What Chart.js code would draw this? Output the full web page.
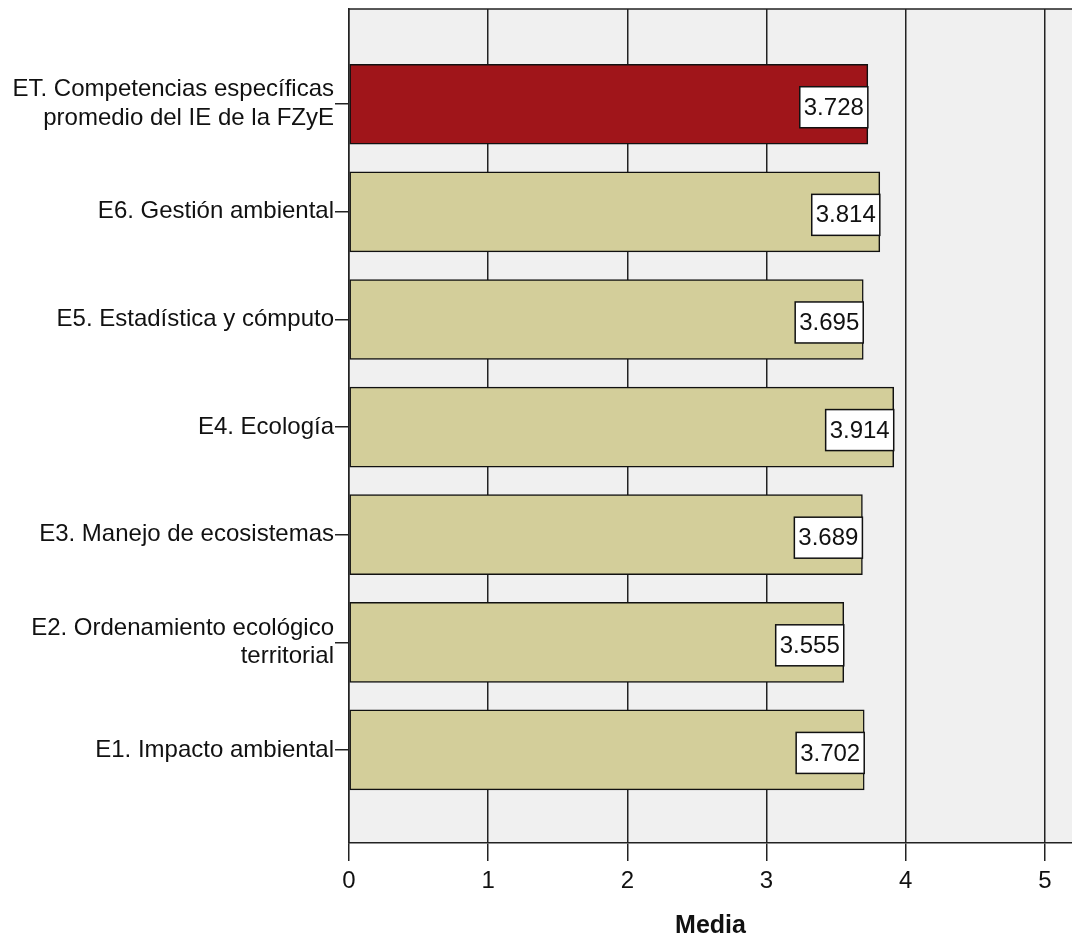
<!DOCTYPE html>
<html>
<head>
<meta charset="utf-8">
<script src="https://cdn.jsdelivr.net/npm/chart.js@4.4.1/dist/chart.umd.min.js"></script>
<style>
  body { margin: 0; background: #fff; }
</style>
</head>
<body>
<canvas id="grafico" width="1072" height="939"></canvas>
<script>
// Categorías (de arriba hacia abajo) y medias
const categorias = [
  'ET. Competencias específicas\npromedio del IE de la FZyE',
  'E6. Gestión ambiental',
  'E5. Estadística y cómputo',
  'E4. Ecología',
  'E3. Manejo de ecosistemas',
  'E2. Ordenamiento ecológico\nterritorial',
  'E1. Impacto ambiental'
];
const medias = [3.728, 3.814, 3.695, 3.914, 3.689, 3.555, 3.702];
const ticksX = [0, 1, 2, 3, 4, 5];

const colores = medias.map((v, i) => i === 0 ? '#A0151A' : '#D3CE9A');

// fondo gris del área y borde superior
const fondoArea = {
  id: 'fondoArea',
  beforeDraw(chart) {
    const a = chart.chartArea;
    const ctx = chart.ctx;
    ctx.save();
    ctx.fillStyle = '#F0F0F0';
    ctx.fillRect(a.left, a.top, a.right - a.left, a.bottom - a.top);
    ctx.restore();
  },
  afterDraw(chart) {
    const a = chart.chartArea;
    const ctx = chart.ctx;
    ctx.save();
    ctx.strokeStyle = '#222';
    ctx.lineWidth = 1.5;
    ctx.beginPath();
    ctx.moveTo(a.left, a.top);
    ctx.lineTo(a.right, a.top);
    ctx.stroke();
    ctx.restore();
  }
};

// etiquetas con el valor en caja blanca
const etiquetas = {
  id: 'etiquetas',
  afterDatasetsDraw(chart) {
    const ctx = chart.ctx;
    const meta = chart.getDatasetMeta(0);
    ctx.save();
    ctx.font = '24px "Liberation Sans", Arial, sans-serif';
    ctx.textBaseline = 'middle';
    ctx.textAlign = 'center';
    meta.data.forEach((bar, i) => {
      const txt = medias[i].toFixed(3);
      const w = ctx.measureText(txt).width + 8;
      const h = 41;
      const x = bar.x - w;
      const y = bar.y - h / 2 + 3;
      ctx.fillStyle = '#fff';
      ctx.fillRect(x, y, w, h);
      ctx.strokeStyle = '#111';
      ctx.lineWidth = 1.5;
      ctx.strokeRect(x, y, w, h);
      ctx.fillStyle = '#111';
      ctx.fillText(txt, x + w / 2, y + h / 2 + 1);
    });
    ctx.restore();
  }
};

const ctx = document.getElementById('grafico').getContext('2d');
const grafico = new Chart(ctx, {
  type: 'bar',
  data: {
    datasets: [{
      data: medias.map((v, i) => ({ x: v, y: i })),
      backgroundColor: colores,
      borderColor: '#111',
      borderWidth: 1.5,
      borderSkipped: false,
      barThickness: 80
    }]
  },
  options: {
    indexAxis: 'y',
    responsive: false,
    animation: false,
    layout: { padding: { top: 9, right: 0, left: 0, bottom: 0 } },
    plugins: {
      legend: { display: false },
      tooltip: { enabled: false }
    },
    scales: {
      x: {
        type: 'linear',
        min: 0,
        max: 5.195,
        afterBuildTicks: (scale) => { scale.ticks = ticksX.map(v => ({ value: v })); },
        afterFit: (scale) => { scale.height = 96; scale.paddingRight = 0; },
        grid: { color: '#222', lineWidth: 1.5, tickLength: 18 },
        border: { color: '#222', width: 1.5 },
        ticks: {
          color: '#111',
          padding: 6,
          font: { family: '"Liberation Sans", Arial, sans-serif', size: 24 }
        },
        title: {
          display: true,
          text: 'Media',
          color: '#111',
          padding: { top: 6, bottom: 0 },
          font: { family: '"Liberation Sans", Arial, sans-serif', size: 25, weight: 'bold', lineHeight: 1.0 }
        }
      },
      y: {
        type: 'linear',
        reverse: true,
        offset: false,
        min: -0.885,
        max: 6.865,
        afterBuildTicks: (scale) => { scale.ticks = categorias.map((c, i) => ({ value: i })); },
        afterFit: (scale) => {
          scale.width = 349;
          scale.paddingTop = 0;
          scale.paddingBottom = 0;
        },
        grid: { offset: false, drawOnChartArea: false, color: '#222', lineWidth: 1.5, tickLength: 14 },
        border: { color: '#222', width: 1.5 },
        ticks: {
          color: '#111',
          padding: 1,
          font: { family: '"Liberation Sans", Arial, sans-serif', size: 24, lineHeight: 1.2 },
          callback: (v) => {
            const t = categorias[v];
            return t ? t.split('\n') : '';
          }
        }
      }
    }
  },
  plugins: [fondoArea, etiquetas]
});
</script>
</body>
</html>
